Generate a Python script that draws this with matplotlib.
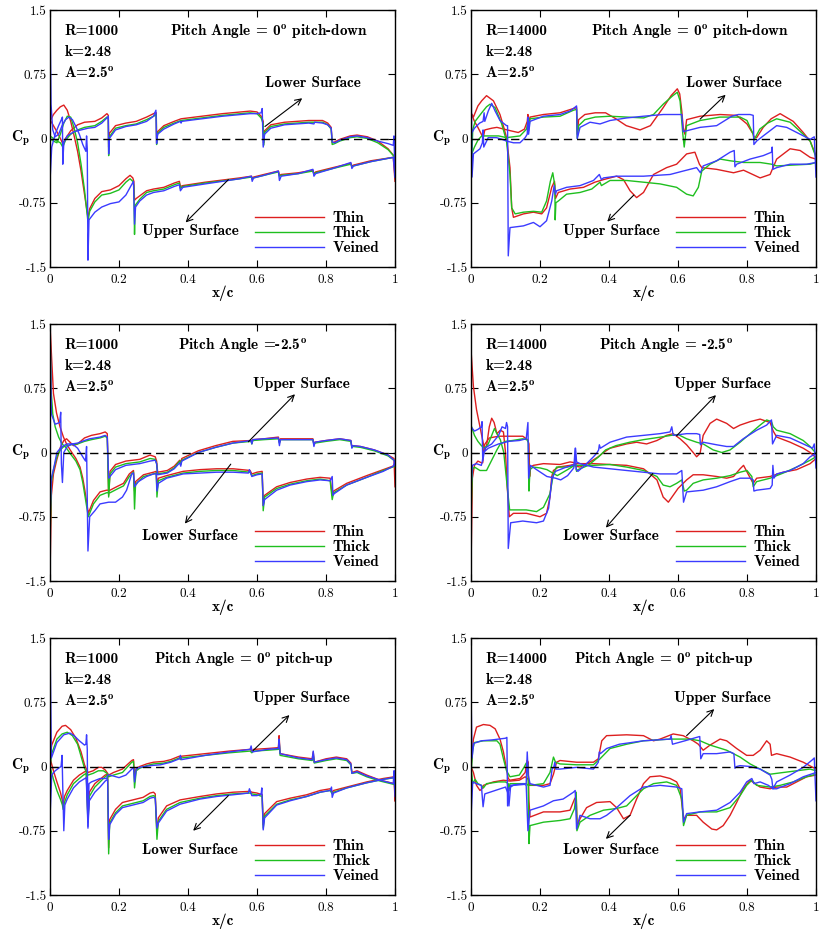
import matplotlib
matplotlib.use('Agg')
import matplotlib.pyplot as plt
from matplotlib.lines import Line2D

plt.rcParams['axes.unicode_minus'] = False
plt.rcParams['mathtext.fontset'] = 'cm'

# ---------------- data (x/c, Cp) ----------------
SERIES = ['Thin', 'Thick', 'Veined']
XTICKS = [0, 0.2, 0.4, 0.6, 0.8, 1.0]
XTICKLABELS = ['0', '0.2', '0.4', '0.6', '0.8', '1']
YTICKS = [-1.5, -0.75, 0, 0.75, 1.5]
YTICKLABELS = ['-1.5', '-0.75', '0', '0.75', '1.5']

# Panel 1 : R=1000, pitch angle 0 pitch-down
p1_thin_a = [(0.0,0.22),(0.01,0.15),(0.02,0.08),(0.03,0.0),(0.037,-0.06),(0.045,0.0),(0.06,0.09),(0.08,0.16),(0.1,0.19),(0.13,0.2),(0.15,0.24),(0.165,0.29),(0.169,0.27),(0.170,-0.1),(0.172,0.06),(0.19,0.15),(0.22,0.18),(0.25,0.2),(0.28,0.25),(0.305,0.3),(0.308,0.3),(0.309,-0.05),(0.312,0.08),(0.33,0.15),(0.36,0.2),(0.38,0.23),(0.42,0.25),(0.5,0.29),(0.58,0.32),(0.6,0.31),(0.612,0.26),(0.618,0.2),(0.619,-0.05),(0.622,0.09),(0.64,0.16),(0.68,0.19),(0.75,0.21),(0.79,0.21),(0.805,0.18),(0.815,0.13),(0.818,-0.05),(0.825,-0.04),(0.84,-0.01),(0.87,0.03),(0.89,0.04),(0.92,0.02),(0.95,-0.03),(0.98,-0.12),(1.0,-0.22)]
p1_thick_a = [(0.0,0.03),(0.01,0.0),(0.02,-0.03),(0.03,-0.05),(0.037,-0.1),(0.045,-0.02),(0.06,0.05),(0.08,0.1),(0.1,0.13),(0.13,0.15),(0.15,0.2),(0.165,0.25),(0.169,0.23),(0.170,-0.2),(0.172,0.02),(0.19,0.12),(0.22,0.15),(0.25,0.17),(0.28,0.22),(0.305,0.27),(0.308,0.28),(0.309,-0.07),(0.312,0.06),(0.33,0.13),(0.36,0.18),(0.38,0.21),(0.42,0.23),(0.5,0.27),(0.58,0.3),(0.6,0.29),(0.612,0.24),(0.618,0.17),(0.619,-0.08),(0.622,0.07),(0.64,0.14),(0.68,0.17),(0.75,0.19),(0.79,0.19),(0.805,0.16),(0.815,0.11),(0.818,-0.07),(0.825,-0.06),(0.84,-0.03),(0.87,0.01),(0.89,0.02),(0.92,0.0),(0.95,-0.05),(0.98,-0.13),(1.0,-0.22)]
p1_veined_a = [(0.0,-0.5),(0.005,-0.1),(0.015,0.05),(0.025,0.15),(0.033,0.22),(0.036,0.25),(0.037,-0.3),(0.04,-0.05),(0.05,0.03),(0.07,0.08),(0.09,0.1),(0.11,0.12),(0.13,0.13),(0.15,0.18),(0.165,0.24),(0.169,0.26),(0.170,-0.18),(0.172,0.0),(0.19,0.1),(0.22,0.14),(0.25,0.16),(0.28,0.2),(0.3,0.26),(0.307,0.33),(0.309,-0.06),(0.312,0.05),(0.33,0.11),(0.36,0.17),(0.378,0.2),(0.38,0.18),(0.382,0.2),(0.42,0.22),(0.5,0.26),(0.58,0.29),(0.6,0.29),(0.612,0.3),(0.615,0.35),(0.618,-0.1),(0.622,0.05),(0.64,0.12),(0.68,0.16),(0.75,0.18),(0.765,0.17),(0.767,0.19),(0.79,0.18),(0.805,0.16),(0.815,0.12),(0.818,-0.04),(0.825,-0.05),(0.84,-0.02),(0.87,0.02),(0.89,0.03),(0.92,0.01),(0.95,-0.03),(0.98,-0.06),(0.995,-0.08),(0.997,0.03),(1.0,-0.45)]
p1_thin_b = [(0.0,0.2),(0.01,0.28),(0.02,0.33),(0.03,0.37),(0.04,0.39),(0.05,0.33),(0.06,0.2),(0.07,0.03),(0.08,-0.15),(0.09,-0.38),(0.1,-0.65),(0.11,-0.92),(0.115,-0.82),(0.13,-0.7),(0.15,-0.62),(0.175,-0.6),(0.2,-0.55),(0.22,-0.47),(0.232,-0.43),(0.24,-0.46),(0.243,-0.5),(0.245,-0.72),(0.25,-0.7),(0.26,-0.67),(0.28,-0.61),(0.3,-0.59),(0.33,-0.57),(0.36,-0.52),(0.375,-0.5),(0.378,-0.56),(0.385,-0.55),(0.45,-0.51),(0.55,-0.46),(0.584,-0.44),(0.586,-0.47),(0.59,-0.45),(0.62,-0.42),(0.662,-0.38),(0.665,-0.43),(0.67,-0.42),(0.72,-0.4),(0.762,-0.37),(0.765,-0.41),(0.77,-0.39),(0.82,-0.34),(0.872,-0.29),(0.875,-0.32),(0.88,-0.31),(0.93,-0.26),(0.995,-0.22),(1.0,-0.5)]
p1_thick_b = [(0.0,0.0),(0.01,-0.03),(0.02,-0.05),(0.03,0.05),(0.04,0.18),(0.05,0.26),(0.06,0.25),(0.07,0.12),(0.08,-0.05),(0.09,-0.3),(0.1,-0.6),(0.11,-0.97),(0.115,-0.85),(0.13,-0.74),(0.15,-0.66),(0.175,-0.64),(0.2,-0.6),(0.22,-0.51),(0.232,-0.47),(0.24,-0.5),(0.243,-0.55),(0.245,-1.12),(0.247,-0.78),(0.26,-0.71),(0.28,-0.63),(0.3,-0.61),(0.33,-0.59),(0.36,-0.54),(0.375,-0.52),(0.378,-0.58),(0.385,-0.56),(0.45,-0.52),(0.55,-0.47),(0.584,-0.45),(0.586,-0.48),(0.59,-0.46),(0.62,-0.43),(0.662,-0.39),(0.665,-0.44),(0.67,-0.43),(0.72,-0.41),(0.762,-0.38),(0.765,-0.42),(0.77,-0.4),(0.82,-0.35),(0.872,-0.3),(0.875,-0.33),(0.88,-0.32),(0.93,-0.27),(0.995,-0.22),(1.0,-0.25)]
p1_veined_b = [(0.0,1.5),(0.003,0.4),(0.008,0.1),(0.015,0.02),(0.025,0.05),(0.035,0.15),(0.045,0.22),(0.055,0.25),(0.065,0.22),(0.075,0.14),(0.085,0.05),(0.095,-0.07),(0.104,-0.15),(0.106,0.03),(0.108,-0.12),(0.11,-1.42),(0.113,-0.95),(0.13,-0.86),(0.15,-0.8),(0.175,-0.76),(0.2,-0.74),(0.22,-0.66),(0.235,-0.55),(0.242,-0.5),(0.245,-1.0),(0.248,-0.8),(0.26,-0.73),(0.28,-0.66),(0.3,-0.63),(0.33,-0.61),(0.36,-0.56),(0.375,-0.54),(0.378,-0.61),(0.385,-0.57),(0.45,-0.53),(0.55,-0.47),(0.584,-0.44),(0.586,-0.5),(0.59,-0.46),(0.62,-0.43),(0.662,-0.38),(0.665,-0.49),(0.67,-0.44),(0.72,-0.41),(0.762,-0.36),(0.765,-0.44),(0.77,-0.41),(0.82,-0.35),(0.872,-0.28),(0.875,-0.35),(0.88,-0.32),(0.93,-0.27),(0.995,-0.22),(1.0,-0.45)]

# Panel 2 : R=14000, pitch angle 0 pitch-down
p2_thin_a = [(0.0,0.3),(0.01,0.2),(0.02,0.13),(0.03,0.05),(0.035,0.0),(0.04,0.1),(0.06,0.12),(0.075,0.13),(0.095,0.11),(0.115,0.09),(0.137,0.07),(0.155,0.11),(0.163,0.2),(0.165,0.28),(0.167,0.16),(0.171,0.25),(0.21,0.28),(0.258,0.3),(0.297,0.35),(0.306,0.36),(0.308,0.05),(0.312,0.22),(0.33,0.28),(0.36,0.3),(0.39,0.3),(0.42,0.23),(0.45,0.15),(0.49,0.1),(0.52,0.15),(0.557,0.36),(0.58,0.5),(0.598,0.58),(0.605,0.52),(0.611,0.32),(0.615,0.13),(0.62,0.05),(0.625,0.22),(0.664,0.26),(0.722,0.28),(0.77,0.27),(0.8,0.17),(0.818,0.05),(0.82,0.02),(0.828,0.01),(0.847,0.13),(0.87,0.23),(0.896,0.29),(0.934,0.2),(0.963,0.07),(0.983,-0.03),(1.0,-0.2)]
p2_thick_a = [(0.0,-0.2),(0.01,-0.1),(0.02,-0.02),(0.031,0.03),(0.055,0.03),(0.08,0.03),(0.103,0.01),(0.142,0.03),(0.161,0.11),(0.165,0.2),(0.167,0.09),(0.171,0.23),(0.21,0.25),(0.258,0.26),(0.297,0.33),(0.306,0.34),(0.308,0.0),(0.312,0.15),(0.33,0.22),(0.36,0.25),(0.403,0.26),(0.451,0.25),(0.5,0.24),(0.529,0.28),(0.557,0.4),(0.585,0.5),(0.598,0.54),(0.606,0.44),(0.614,0.05),(0.618,-0.1),(0.625,0.15),(0.664,0.21),(0.722,0.25),(0.78,0.25),(0.8,0.21),(0.818,0.05),(0.82,-0.02),(0.837,0.11),(0.86,0.18),(0.886,0.23),(0.925,0.19),(0.963,0.05),(0.983,-0.03),(1.0,-0.22)]
p2_veined_a = [(0.0,1.0),(0.003,-0.45),(0.007,-0.18),(0.026,-0.12),(0.033,-0.05),(0.035,0.1),(0.037,-0.1),(0.05,0.01),(0.074,0.01),(0.09,-0.01),(0.103,-0.03),(0.123,-0.05),(0.142,-0.05),(0.157,0.01),(0.163,0.05),(0.165,0.25),(0.167,0.05),(0.171,0.2),(0.21,0.26),(0.258,0.28),(0.287,0.32),(0.3,0.36),(0.306,0.38),(0.308,0.0),(0.316,0.13),(0.345,0.19),(0.374,0.17),(0.403,0.21),(0.451,0.24),(0.5,0.26),(0.557,0.28),(0.611,0.28),(0.615,0.08),(0.625,0.09),(0.664,0.13),(0.712,0.15),(0.756,0.26),(0.775,0.28),(0.809,0.28),(0.818,0.27),(0.82,-0.07),(0.828,-0.03),(0.847,0.03),(0.886,0.15),(0.915,0.13),(0.954,0.05),(0.983,-0.01),(0.995,0.02),(1.0,-0.45)]
p2_thin_b = [(0.0,0.3),(0.007,0.25),(0.02,0.38),(0.031,0.44),(0.045,0.5),(0.065,0.44),(0.084,0.28),(0.095,0.13),(0.103,0.01),(0.113,-0.34),(0.118,-0.81),(0.123,-0.92),(0.152,-0.88),(0.181,-0.86),(0.205,-0.88),(0.219,-0.81),(0.234,-0.57),(0.242,-0.5),(0.245,-0.7),(0.253,-0.63),(0.287,-0.59),(0.326,-0.57),(0.359,-0.51),(0.384,-0.48),(0.422,-0.44),(0.442,-0.48),(0.461,-0.61),(0.48,-0.69),(0.5,-0.63),(0.529,-0.42),(0.567,-0.34),(0.596,-0.3),(0.625,-0.18),(0.649,-0.16),(0.662,-0.3),(0.669,-0.34),(0.712,-0.36),(0.761,-0.4),(0.79,-0.37),(0.838,-0.46),(0.867,-0.42),(0.886,-0.24),(0.925,-0.12),(0.954,-0.14),(0.983,-0.22),(1.0,-0.24)]
p2_thick_b = [(0.0,-0.5),(0.005,0.1),(0.012,0.2),(0.031,0.3),(0.045,0.37),(0.055,0.4),(0.07,0.36),(0.089,0.17),(0.103,-0.03),(0.113,-0.42),(0.118,-0.81),(0.128,-0.88),(0.152,-0.86),(0.181,-0.85),(0.205,-0.86),(0.219,-0.73),(0.23,-0.5),(0.237,-0.4),(0.243,-0.55),(0.244,-0.95),(0.246,-0.75),(0.253,-0.73),(0.277,-0.65),(0.316,-0.63),(0.35,-0.59),(0.374,-0.51),(0.378,-0.55),(0.403,-0.49),(0.451,-0.49),(0.5,-0.51),(0.548,-0.53),(0.596,-0.57),(0.625,-0.65),(0.644,-0.67),(0.659,-0.57),(0.669,-0.38),(0.693,-0.3),(0.722,-0.24),(0.751,-0.26),(0.79,-0.28),(0.838,-0.28),(0.871,-0.3),(0.886,-0.32),(0.934,-0.31),(0.983,-0.3),(1.0,-0.28)]
p2_veined_b = [(0.0,0.05),(0.01,0.12),(0.025,0.18),(0.035,0.2),(0.038,0.3),(0.04,0.2),(0.05,0.32),(0.06,0.41),(0.07,0.32),(0.084,0.21),(0.103,0.15),(0.106,0.15),(0.108,-1.37),(0.113,-1.04),(0.152,-1.02),(0.181,-0.98),(0.2,-1.03),(0.219,-0.96),(0.234,-0.73),(0.241,-0.55),(0.245,-0.65),(0.248,-0.61),(0.277,-0.57),(0.316,-0.55),(0.355,-0.49),(0.372,-0.42),(0.378,-0.48),(0.384,-0.46),(0.422,-0.44),(0.5,-0.44),(0.577,-0.42),(0.615,-0.38),(0.654,-0.34),(0.665,-0.4),(0.673,-0.32),(0.712,-0.26),(0.751,-0.16),(0.763,-0.14),(0.765,-0.33),(0.77,-0.3),(0.809,-0.24),(0.847,-0.2),(0.871,-0.16),(0.873,-0.1),(0.875,-0.36),(0.886,-0.34),(0.925,-0.3),(0.973,-0.3),(1.0,-0.28)]

# Panel 3 : R=1000, pitch angle -2.5
p3_thin_a = [(0.0,-1.45),(0.004,-0.5),(0.01,-0.25),(0.02,-0.08),(0.03,0.06),(0.04,0.14),(0.048,0.16),(0.058,0.12),(0.068,0.08),(0.08,0.1),(0.1,0.17),(0.12,0.2),(0.145,0.22),(0.16,0.24),(0.166,0.22),(0.17,-0.5),(0.174,-0.22),(0.19,-0.14),(0.22,-0.1),(0.26,-0.08),(0.29,-0.03),(0.305,-0.05),(0.309,-0.1),(0.312,-0.23),(0.34,-0.21),(0.36,-0.16),(0.376,-0.09),(0.379,-0.12),(0.382,-0.07),(0.43,0.02),(0.48,0.08),(0.53,0.13),(0.583,0.14),(0.585,0.11),(0.588,0.15),(0.62,0.16),(0.662,0.18),(0.665,0.12),(0.668,0.16),(0.72,0.16),(0.762,0.16),(0.765,0.1),(0.768,0.12),(0.8,0.14),(0.84,0.16),(0.872,0.14),(0.875,0.07),(0.878,0.08),(0.9,0.07),(0.94,0.03),(0.98,-0.03),(0.997,-0.07),(1.0,-0.4)]
p3_thick_a = [(0.0,-1.05),(0.004,-0.35),(0.01,-0.2),(0.02,-0.05),(0.03,0.03),(0.04,0.07),(0.05,0.08),(0.06,0.09),(0.08,0.1),(0.1,0.13),(0.12,0.15),(0.145,0.17),(0.16,0.19),(0.166,0.17),(0.17,-0.52),(0.174,-0.25),(0.19,-0.17),(0.22,-0.13),(0.26,-0.11),(0.29,-0.07),(0.305,-0.08),(0.309,-0.13),(0.312,-0.25),(0.34,-0.23),(0.36,-0.18),(0.376,-0.1),(0.379,-0.14),(0.382,-0.09),(0.43,0.0),(0.48,0.06),(0.53,0.11),(0.583,0.13),(0.585,0.1),(0.588,0.14),(0.62,0.15),(0.662,0.16),(0.665,0.11),(0.668,0.15),(0.72,0.15),(0.762,0.15),(0.765,0.09),(0.768,0.11),(0.8,0.13),(0.84,0.15),(0.872,0.13),(0.875,0.06),(0.878,0.07),(0.9,0.06),(0.94,0.02),(0.98,-0.04),(1.0,-0.1)]
p3_veined_a = [(0.0,-0.8),(0.004,-0.3),(0.01,-0.2),(0.02,0.0),(0.03,0.05),(0.04,0.08),(0.05,0.1),(0.065,0.1),(0.08,0.11),(0.1,0.14),(0.115,0.16),(0.145,0.18),(0.16,0.2),(0.166,0.18),(0.17,-0.3),(0.174,-0.28),(0.19,-0.2),(0.22,-0.15),(0.26,-0.13),(0.29,-0.1),(0.305,-0.09),(0.309,-0.13),(0.312,-0.26),(0.34,-0.24),(0.36,-0.19),(0.376,-0.12),(0.379,-0.16),(0.382,-0.1),(0.43,0.0),(0.48,0.06),(0.53,0.11),(0.583,0.14),(0.585,0.1),(0.588,0.15),(0.62,0.16),(0.662,0.17),(0.665,0.08),(0.668,0.15),(0.72,0.15),(0.762,0.15),(0.765,0.07),(0.768,0.12),(0.8,0.14),(0.84,0.16),(0.872,0.14),(0.875,0.05),(0.878,0.08),(0.9,0.07),(0.94,0.03),(0.98,-0.03),(0.997,-0.09),(1.0,-0.15)]
p3_thin_b = [(0.0,1.5),(0.005,1.08),(0.01,0.69),(0.019,0.46),(0.029,0.3),(0.039,0.18),(0.048,0.1),(0.06,0.02),(0.075,-0.07),(0.087,-0.17),(0.095,-0.3),(0.101,-0.44),(0.111,-0.71),(0.126,-0.56),(0.145,-0.46),(0.164,-0.44),(0.174,-0.44),(0.193,-0.4),(0.213,-0.36),(0.23,-0.25),(0.242,-0.21),(0.245,-0.45),(0.248,-0.34),(0.271,-0.26),(0.3,-0.23),(0.308,-0.22),(0.31,-0.4),(0.314,-0.3),(0.338,-0.27),(0.386,-0.22),(0.435,-0.2),(0.483,-0.19),(0.531,-0.19),(0.58,-0.21),(0.585,-0.25),(0.6,-0.23),(0.615,-0.22),(0.618,-0.62),(0.622,-0.5),(0.657,-0.4),(0.696,-0.35),(0.744,-0.31),(0.783,-0.29),(0.812,-0.3),(0.818,-0.5),(0.822,-0.45),(0.86,-0.36),(0.918,-0.27),(0.966,-0.2),(1.0,-0.15)]
p3_thick_b = [(0.0,1.5),(0.003,0.75),(0.008,0.45),(0.015,0.3),(0.025,0.18),(0.035,0.1),(0.048,0.05),(0.06,-0.02),(0.075,-0.1),(0.087,-0.2),(0.095,-0.35),(0.101,-0.5),(0.111,-0.75),(0.126,-0.6),(0.145,-0.5),(0.164,-0.47),(0.174,-0.47),(0.193,-0.43),(0.213,-0.39),(0.23,-0.28),(0.242,-0.23),(0.245,-0.66),(0.248,-0.37),(0.271,-0.28),(0.3,-0.25),(0.308,-0.24),(0.31,-0.52),(0.314,-0.33),(0.338,-0.29),(0.386,-0.24),(0.435,-0.22),(0.483,-0.21),(0.531,-0.21),(0.58,-0.23),(0.585,-0.27),(0.6,-0.25),(0.615,-0.24),(0.618,-0.68),(0.622,-0.52),(0.657,-0.42),(0.696,-0.37),(0.744,-0.33),(0.783,-0.31),(0.812,-0.33),(0.818,-0.55),(0.822,-0.47),(0.86,-0.38),(0.918,-0.29),(0.966,-0.21),(1.0,-0.16)]
p3_veined_b = [(0.0,1.5),(0.004,0.45),(0.015,0.33),(0.028,0.35),(0.031,0.47),(0.033,-0.13),(0.036,-0.35),(0.04,0.0),(0.05,0.07),(0.065,0.1),(0.08,0.05),(0.095,-0.05),(0.103,-0.1),(0.106,0.07),(0.11,-1.15),(0.115,-0.75),(0.13,-0.68),(0.145,-0.6),(0.17,-0.58),(0.19,-0.58),(0.21,-0.52),(0.222,-0.44),(0.237,-0.25),(0.242,-0.24),(0.245,-0.4),(0.256,-0.34),(0.28,-0.28),(0.3,-0.25),(0.308,-0.25),(0.31,-0.45),(0.314,-0.36),(0.338,-0.3),(0.386,-0.25),(0.435,-0.24),(0.483,-0.23),(0.531,-0.23),(0.575,-0.24),(0.578,-0.2),(0.585,-0.28),(0.6,-0.26),(0.615,-0.25),(0.618,-0.62),(0.622,-0.55),(0.657,-0.44),(0.696,-0.38),(0.744,-0.34),(0.783,-0.32),(0.812,-0.33),(0.818,-0.28),(0.82,-0.5),(0.824,-0.48),(0.86,-0.38),(0.918,-0.29),(0.966,-0.22),(0.995,-0.16),(1.0,-0.1)]

# Panel 4 : R=14000, pitch angle -2.5
p4_thin_a = [(0.0,-1.35),(0.004,-0.3),(0.01,-0.15),(0.02,-0.1),(0.03,-0.12),(0.034,-0.12),(0.036,0.0),(0.039,0.09),(0.053,0.17),(0.08,0.19),(0.111,0.19),(0.15,0.19),(0.164,0.15),(0.168,0.1),(0.17,-0.28),(0.172,-0.17),(0.181,-0.15),(0.21,-0.13),(0.258,-0.14),(0.287,-0.11),(0.302,-0.12),(0.304,-0.16),(0.316,-0.17),(0.345,-0.11),(0.369,-0.05),(0.384,0.0),(0.403,0.05),(0.451,0.1),(0.48,0.12),(0.509,0.1),(0.539,0.14),(0.567,0.2),(0.586,0.22),(0.606,0.16),(0.625,0.09),(0.644,0.0),(0.654,-0.05),(0.664,-0.01),(0.673,0.2),(0.693,0.34),(0.712,0.39),(0.741,0.34),(0.761,0.28),(0.78,0.32),(0.809,0.36),(0.838,0.39),(0.867,0.35),(0.876,0.25),(0.886,0.18),(0.925,0.12),(0.963,0.05),(0.983,0.0),(1.0,-0.06)]
p4_thick_a = [(0.0,-0.75),(0.004,-0.2),(0.01,-0.17),(0.026,-0.21),(0.045,-0.21),(0.055,-0.13),(0.065,-0.05),(0.075,0.03),(0.085,0.1),(0.1,0.13),(0.12,0.14),(0.15,0.16),(0.162,0.15),(0.166,0.12),(0.168,-0.45),(0.171,-0.2),(0.18,-0.17),(0.2,-0.18),(0.22,-0.2),(0.25,-0.27),(0.28,-0.2),(0.3,-0.15),(0.304,-0.15),(0.306,-0.22),(0.31,-0.2),(0.34,-0.15),(0.37,-0.05),(0.39,0.03),(0.42,0.08),(0.46,0.12),(0.5,0.15),(0.55,0.18),(0.58,0.2),(0.6,0.21),(0.625,0.16),(0.654,0.12),(0.673,0.1),(0.702,0.03),(0.727,0.0),(0.751,0.03),(0.78,0.12),(0.809,0.22),(0.838,0.32),(0.857,0.38),(0.871,0.36),(0.876,0.3),(0.886,0.26),(0.925,0.22),(0.963,0.14),(0.983,0.07),(1.0,-0.01)]
p4_veined_a = [(0.0,-0.42),(0.004,-0.15),(0.015,-0.13),(0.03,-0.15),(0.033,-0.1),(0.036,0.0),(0.05,0.05),(0.08,0.1),(0.11,0.13),(0.14,0.14),(0.16,0.16),(0.165,0.35),(0.167,-0.3),(0.172,-0.15),(0.19,-0.2),(0.22,-0.28),(0.245,-0.3),(0.26,-0.32),(0.28,-0.27),(0.298,-0.18),(0.302,0.05),(0.305,-0.2),(0.31,-0.22),(0.33,-0.15),(0.355,-0.05),(0.364,-0.01),(0.37,0.03),(0.372,0.09),(0.375,0.05),(0.403,0.12),(0.451,0.18),(0.5,0.2),(0.548,0.22),(0.577,0.24),(0.582,0.3),(0.586,0.2),(0.625,0.22),(0.654,0.22),(0.663,0.21),(0.665,0.09),(0.673,0.12),(0.712,0.09),(0.741,0.07),(0.761,0.07),(0.789,0.16),(0.828,0.26),(0.857,0.32),(0.871,0.38),(0.874,0.1),(0.886,0.2),(0.925,0.17),(0.963,0.1),(0.99,0.05),(0.995,0.1),(1.0,-0.18)]
p4_thin_b = [(0.0,1.2),(0.007,0.77),(0.016,0.5),(0.026,0.3),(0.035,0.12),(0.04,0.02),(0.046,0.1),(0.053,0.3),(0.06,0.4),(0.067,0.35),(0.075,0.22),(0.085,0.26),(0.094,0.24),(0.1,0.0),(0.105,-0.4),(0.111,-0.75),(0.123,-0.71),(0.161,-0.71),(0.2,-0.75),(0.219,-0.71),(0.229,-0.52),(0.234,-0.28),(0.239,-0.21),(0.253,-0.17),(0.287,-0.15),(0.306,-0.13),(0.355,-0.13),(0.403,-0.14),(0.451,-0.15),(0.5,-0.19),(0.519,-0.25),(0.539,-0.32),(0.557,-0.52),(0.572,-0.58),(0.586,-0.5),(0.6,-0.42),(0.615,-0.36),(0.625,-0.32),(0.644,-0.26),(0.673,-0.26),(0.712,-0.28),(0.741,-0.3),(0.761,-0.28),(0.78,-0.19),(0.79,-0.15),(0.803,-0.25),(0.818,-0.36),(0.828,-0.3),(0.867,-0.28),(0.905,-0.23),(0.944,-0.2),(0.983,-0.13),(1.0,-0.07)]
p4_thick_b = [(0.0,0.32),(0.01,0.2),(0.02,0.13),(0.03,0.08),(0.04,0.05),(0.05,0.1),(0.06,0.2),(0.068,0.28),(0.075,0.22),(0.085,0.15),(0.095,0.0),(0.105,-0.4),(0.112,-0.67),(0.123,-0.67),(0.16,-0.67),(0.19,-0.69),(0.21,-0.64),(0.229,-0.48),(0.239,-0.25),(0.248,-0.17),(0.277,-0.17),(0.306,-0.15),(0.355,-0.15),(0.403,-0.14),(0.451,-0.17),(0.5,-0.21),(0.539,-0.28),(0.557,-0.38),(0.577,-0.4),(0.596,-0.36),(0.611,-0.32),(0.618,-0.45),(0.625,-0.44),(0.644,-0.36),(0.673,-0.32),(0.712,-0.3),(0.751,-0.27),(0.78,-0.23),(0.8,-0.21),(0.814,-0.28),(0.818,-0.4),(0.828,-0.34),(0.867,-0.3),(0.905,-0.24),(0.944,-0.17),(0.983,-0.09),(1.0,-0.05)]
p4_veined_b = [(0.0,0.3),(0.01,0.25),(0.02,0.27),(0.03,0.3),(0.032,0.36),(0.034,-0.1),(0.04,0.05),(0.06,0.1),(0.08,0.2),(0.09,0.3),(0.1,0.28),(0.103,0.35),(0.106,0.3),(0.108,-1.12),(0.115,-0.82),(0.15,-0.8),(0.19,-0.82),(0.21,-0.8),(0.225,-0.65),(0.235,-0.3),(0.245,-0.22),(0.27,-0.18),(0.3,-0.14),(0.303,0.05),(0.306,-0.11),(0.316,-0.13),(0.355,-0.17),(0.403,-0.19),(0.451,-0.21),(0.5,-0.23),(0.548,-0.25),(0.596,-0.25),(0.611,-0.21),(0.616,-0.58),(0.625,-0.46),(0.673,-0.44),(0.712,-0.4),(0.751,-0.34),(0.78,-0.3),(0.809,-0.3),(0.818,-0.32),(0.82,-0.45),(0.828,-0.44),(0.867,-0.42),(0.873,-0.38),(0.875,-0.15),(0.878,-0.3),(0.886,-0.25),(0.925,-0.21),(0.963,-0.13),(0.983,-0.05),(1.0,-0.01)]

# Panel 5 : R=1000, pitch angle 0 pitch-up
p5_thin_a = [(0.0,0.1),(0.005,0.25),(0.02,0.4),(0.035,0.47),(0.045,0.48),(0.06,0.43),(0.075,0.33),(0.09,0.17),(0.1,0.02),(0.11,-0.07),(0.125,-0.05),(0.14,-0.01),(0.15,-0.01),(0.16,-0.04),(0.167,-0.08),(0.17,-0.1),(0.184,-0.07),(0.21,-0.03),(0.237,0.07),(0.242,0.08),(0.245,-0.1),(0.25,-0.02),(0.26,0.0),(0.28,0.03),(0.3,0.05),(0.33,0.06),(0.35,0.08),(0.375,0.12),(0.378,0.1),(0.381,0.12),(0.45,0.15),(0.52,0.18),(0.58,0.2),(0.585,0.18),(0.59,0.2),(0.63,0.21),(0.662,0.22),(0.664,0.36),(0.667,0.15),(0.72,0.11),(0.76,0.09),(0.763,0.17),(0.766,0.05),(0.8,0.09),(0.83,0.11),(0.86,0.09),(0.872,0.04),(0.875,-0.07),(0.89,-0.05),(0.918,-0.1),(0.957,-0.16),(0.998,-0.2),(1.0,-0.4)]
p5_thick_a = [(0.0,0.0),(0.005,0.15),(0.02,0.32),(0.035,0.38),(0.05,0.4),(0.065,0.36),(0.08,0.26),(0.09,0.12),(0.1,-0.02),(0.11,-0.1),(0.125,-0.08),(0.14,-0.05),(0.155,-0.05),(0.165,-0.08),(0.17,-0.12),(0.184,-0.1),(0.21,-0.07),(0.237,0.05),(0.242,0.06),(0.245,-0.25),(0.25,-0.05),(0.26,-0.02),(0.28,0.01),(0.3,0.03),(0.33,0.04),(0.35,0.06),(0.375,0.1),(0.378,0.08),(0.381,0.1),(0.45,0.13),(0.52,0.16),(0.58,0.18),(0.585,0.16),(0.59,0.18),(0.63,0.19),(0.662,0.2),(0.664,0.3),(0.667,0.13),(0.72,0.09),(0.76,0.07),(0.763,0.14),(0.766,0.04),(0.8,0.07),(0.83,0.09),(0.86,0.07),(0.872,0.02),(0.875,-0.08),(0.89,-0.07),(0.918,-0.12),(0.957,-0.17),(0.998,-0.21),(1.0,-0.2)]
p5_veined_a = [(0.0,1.5),(0.004,0.1),(0.02,0.28),(0.04,0.37),(0.058,0.39),(0.07,0.36),(0.085,0.3),(0.1,0.25),(0.104,0.26),(0.106,0.37),(0.108,0.2),(0.11,-0.72),(0.113,-0.2),(0.12,-0.18),(0.145,-0.14),(0.164,-0.14),(0.168,-0.1),(0.174,-0.1),(0.2,-0.13),(0.22,-0.1),(0.242,-0.01),(0.245,-0.18),(0.25,-0.03),(0.26,-0.01),(0.29,0.01),(0.32,0.02),(0.35,0.05),(0.375,0.09),(0.378,0.13),(0.381,0.08),(0.45,0.13),(0.52,0.17),(0.58,0.2),(0.583,0.24),(0.586,0.17),(0.63,0.2),(0.662,0.21),(0.664,0.32),(0.667,0.15),(0.72,0.1),(0.76,0.08),(0.763,0.18),(0.766,0.05),(0.8,0.08),(0.83,0.1),(0.86,0.08),(0.872,0.03),(0.875,-0.08),(0.89,-0.06),(0.918,-0.11),(0.957,-0.16),(0.995,-0.2),(0.997,-0.05),(1.0,-0.35)]
p5_thin_b = [(0.0,0.1),(0.01,-0.05),(0.02,-0.18),(0.03,-0.3),(0.036,-0.4),(0.038,-0.45),(0.042,-0.35),(0.05,-0.28),(0.068,-0.16),(0.085,-0.1),(0.097,-0.07),(0.105,-0.05),(0.11,-0.6),(0.114,-0.3),(0.13,-0.2),(0.145,-0.15),(0.16,-0.1),(0.167,-0.09),(0.17,-0.95),(0.173,-0.62),(0.19,-0.5),(0.21,-0.42),(0.24,-0.39),(0.27,-0.36),(0.29,-0.31),(0.3,-0.3),(0.305,-0.32),(0.31,-0.78),(0.314,-0.6),(0.338,-0.46),(0.377,-0.39),(0.435,-0.35),(0.483,-0.32),(0.531,-0.3),(0.58,-0.29),(0.585,-0.3),(0.6,-0.31),(0.615,-0.33),(0.618,-0.68),(0.622,-0.55),(0.657,-0.41),(0.696,-0.37),(0.744,-0.33),(0.783,-0.28),(0.812,-0.26),(0.818,-0.3),(0.822,-0.28),(0.86,-0.24),(0.918,-0.18),(0.966,-0.14),(0.998,-0.12),(1.0,-0.4)]
p5_thick_b = [(0.0,0.0),(0.01,-0.15),(0.02,-0.28),(0.03,-0.38),(0.036,-0.45),(0.038,-0.5),(0.042,-0.42),(0.05,-0.33),(0.068,-0.2),(0.085,-0.14),(0.097,-0.1),(0.105,-0.08),(0.11,-0.65),(0.114,-0.35),(0.13,-0.24),(0.145,-0.18),(0.16,-0.12),(0.167,-0.1),(0.17,-1.02),(0.173,-0.66),(0.19,-0.54),(0.21,-0.46),(0.24,-0.43),(0.27,-0.4),(0.29,-0.35),(0.3,-0.34),(0.305,-0.35),(0.31,-0.85),(0.314,-0.64),(0.338,-0.5),(0.377,-0.42),(0.435,-0.37),(0.483,-0.34),(0.531,-0.32),(0.58,-0.31),(0.585,-0.32),(0.6,-0.33),(0.615,-0.35),(0.618,-0.72),(0.622,-0.58),(0.657,-0.44),(0.696,-0.39),(0.744,-0.35),(0.783,-0.3),(0.812,-0.28),(0.818,-0.32),(0.822,-0.3),(0.86,-0.25),(0.918,-0.19),(0.966,-0.15),(1.0,-0.13)]
p5_veined_b = [(0.0,-0.6),(0.005,-0.1),(0.015,-0.05),(0.025,-0.02),(0.032,0.0),(0.035,0.13),(0.037,-0.25),(0.04,-0.75),(0.043,-0.45),(0.05,-0.38),(0.068,-0.25),(0.085,-0.18),(0.097,-0.15),(0.105,-0.13),(0.11,-0.7),(0.114,-0.4),(0.13,-0.3),(0.145,-0.24),(0.16,-0.17),(0.167,-0.15),(0.17,-0.85),(0.173,-0.68),(0.19,-0.56),(0.21,-0.48),(0.24,-0.45),(0.27,-0.42),(0.29,-0.37),(0.3,-0.36),(0.305,-0.37),(0.31,-0.72),(0.314,-0.66),(0.338,-0.52),(0.377,-0.44),(0.435,-0.38),(0.483,-0.35),(0.531,-0.33),(0.575,-0.31),(0.578,-0.26),(0.585,-0.34),(0.6,-0.34),(0.612,-0.32),(0.614,-0.25),(0.618,-0.74),(0.622,-0.6),(0.657,-0.45),(0.696,-0.4),(0.744,-0.35),(0.783,-0.3),(0.812,-0.28),(0.816,-0.24),(0.818,-0.36),(0.822,-0.31),(0.86,-0.25),(0.918,-0.19),(0.966,-0.15),(0.995,-0.13),(1.0,-0.05)]

# Panel 6 : R=14000, pitch angle 0 pitch-up
p6_thin_a = [(0.0,0.0),(0.007,0.32),(0.016,0.46),(0.036,0.49),(0.055,0.48),(0.07,0.44),(0.084,0.32),(0.094,0.17),(0.103,-0.03),(0.108,-0.14),(0.113,-0.16),(0.142,-0.14),(0.157,-0.07),(0.163,0.07),(0.166,0.05),(0.168,-0.4),(0.171,-0.59),(0.21,-0.53),(0.258,-0.53),(0.287,-0.51),(0.3,-0.38),(0.305,-0.35),(0.308,-0.7),(0.316,-0.61),(0.335,-0.48),(0.364,-0.42),(0.403,-0.41),(0.422,-0.48),(0.442,-0.61),(0.461,-0.57),(0.48,-0.38),(0.5,-0.2),(0.519,-0.12),(0.548,-0.11),(0.577,-0.14),(0.596,-0.18),(0.606,-0.26),(0.614,-0.53),(0.618,-0.62),(0.625,-0.57),(0.654,-0.57),(0.673,-0.65),(0.698,-0.73),(0.712,-0.74),(0.731,-0.69),(0.751,-0.57),(0.77,-0.42),(0.789,-0.26),(0.809,-0.16),(0.823,-0.2),(0.838,-0.24),(0.867,-0.26),(0.886,-0.24),(0.915,-0.24),(0.944,-0.18),(0.973,-0.12),(1.0,-0.1)]
p6_thick_a = [(0.0,-0.1),(0.005,0.2),(0.01,0.28),(0.036,0.3),(0.06,0.3),(0.075,0.3),(0.084,0.26),(0.094,0.09),(0.103,-0.05),(0.113,-0.12),(0.14,-0.1),(0.155,0.0),(0.16,0.04),(0.165,0.02),(0.168,-0.9),(0.171,-0.69),(0.21,-0.65),(0.258,-0.63),(0.287,-0.61),(0.3,-0.49),(0.305,-0.3),(0.307,-0.75),(0.316,-0.65),(0.345,-0.57),(0.384,-0.51),(0.422,-0.49),(0.451,-0.46),(0.48,-0.34),(0.5,-0.26),(0.529,-0.2),(0.567,-0.18),(0.596,-0.22),(0.611,-0.38),(0.616,-0.69),(0.625,-0.57),(0.664,-0.53),(0.712,-0.53),(0.751,-0.48),(0.78,-0.34),(0.799,-0.22),(0.814,-0.16),(0.828,-0.22),(0.867,-0.24),(0.896,-0.22),(0.934,-0.18),(0.973,-0.12),(1.0,-0.09)]
p6_veined_a = [(0.0,0.9),(0.003,0.1),(0.008,0.27),(0.03,0.3),(0.06,0.31),(0.08,0.32),(0.1,0.33),(0.104,0.34),(0.106,-0.46),(0.11,-0.25),(0.123,-0.22),(0.152,-0.21),(0.16,-0.2),(0.163,0.17),(0.166,-0.1),(0.171,-0.2),(0.21,-0.24),(0.229,-0.22),(0.235,-0.03),(0.24,-0.01),(0.243,0.05),(0.246,-0.03),(0.258,-0.03),(0.306,-0.01),(0.355,-0.03),(0.369,0.05),(0.372,0.17),(0.375,0.15),(0.393,0.21),(0.43,0.26),(0.5,0.3),(0.577,0.32),(0.58,0.36),(0.584,0.26),(0.62,0.3),(0.654,0.34),(0.663,0.35),(0.666,0.09),(0.673,0.15),(0.712,0.15),(0.751,0.17),(0.762,0.15),(0.765,-0.02),(0.77,0.0),(0.78,0.01),(0.809,0.0),(0.838,-0.03),(0.867,-0.1),(0.872,-0.15),(0.875,-0.26),(0.886,-0.18),(0.925,-0.1),(0.963,-0.01),(0.99,0.08),(0.995,0.1),(1.0,-0.4)]
p6_thin_b = [(0.0,0.0),(0.007,-0.07),(0.016,-0.22),(0.026,-0.28),(0.034,-0.25),(0.036,-0.22),(0.065,-0.18),(0.094,-0.16),(0.113,-0.17),(0.14,-0.16),(0.157,-0.12),(0.166,-0.15),(0.171,-0.22),(0.21,-0.22),(0.229,-0.2),(0.239,-0.09),(0.248,0.05),(0.258,0.07),(0.306,0.05),(0.355,0.05),(0.369,0.09),(0.379,0.3),(0.393,0.36),(0.451,0.37),(0.5,0.36),(0.529,0.3),(0.548,0.32),(0.586,0.38),(0.615,0.36),(0.644,0.3),(0.659,0.26),(0.673,0.19),(0.693,0.25),(0.722,0.32),(0.741,0.3),(0.77,0.21),(0.799,0.13),(0.818,0.13),(0.838,0.19),(0.857,0.3),(0.867,0.26),(0.871,0.13),(0.886,0.15),(0.925,0.11),(0.963,0.05),(1.0,-0.03)]
p6_thick_b = [(0.0,0.0),(0.005,-0.2),(0.012,-0.15),(0.02,-0.2),(0.03,-0.22),(0.036,-0.25),(0.045,-0.2),(0.08,-0.18),(0.1,-0.18),(0.108,-0.2),(0.11,-0.28),(0.113,-0.2),(0.14,-0.2),(0.16,-0.2),(0.166,-0.22),(0.171,-0.22),(0.21,-0.2),(0.229,-0.07),(0.239,0.11),(0.245,0.05),(0.258,0.03),(0.306,0.02),(0.355,0.02),(0.374,0.09),(0.403,0.21),(0.451,0.26),(0.5,0.3),(0.577,0.32),(0.635,0.32),(0.664,0.3),(0.693,0.25),(0.741,0.19),(0.78,0.11),(0.809,0.03),(0.838,-0.03),(0.867,-0.09),(0.905,-0.07),(0.944,-0.05),(0.983,-0.03),(1.0,-0.05)]
p6_veined_b = [(0.0,-0.6),(0.005,-0.18),(0.015,-0.2),(0.03,-0.22),(0.035,-0.47),(0.04,-0.32),(0.07,-0.28),(0.1,-0.24),(0.106,-0.3),(0.11,-0.46),(0.115,-0.22),(0.152,-0.2),(0.16,-0.22),(0.165,-0.75),(0.171,-0.51),(0.21,-0.46),(0.239,-0.4),(0.267,-0.38),(0.297,-0.3),(0.302,-0.28),(0.306,-0.73),(0.316,-0.57),(0.345,-0.61),(0.374,-0.61),(0.393,-0.57),(0.422,-0.48),(0.461,-0.34),(0.5,-0.24),(0.548,-0.22),(0.596,-0.24),(0.611,-0.26),(0.616,-0.65),(0.625,-0.55),(0.664,-0.53),(0.712,-0.51),(0.751,-0.42),(0.78,-0.3),(0.799,-0.18),(0.814,-0.14),(0.82,-0.2),(0.838,-0.18),(0.862,-0.22),(0.875,-0.26),(0.886,-0.26),(0.925,-0.2),(0.963,-0.12),(1.0,-0.07)]

R_LABELS = ['R=1000', 'R=14000', 'R=1000', 'R=14000', 'R=1000', 'R=14000']
PITCH_LABELS = ['Pitch Angle = 0$^{\\mathbf{o}}$ pitch-down', 'Pitch Angle = 0$^{\\mathbf{o}}$ pitch-down',
                'Pitch Angle =-2.5$^{\\mathbf{o}}$', 'Pitch Angle = -2.5$^{\\mathbf{o}}$',
                'Pitch Angle = 0$^{\\mathbf{o}}$ pitch-up', 'Pitch Angle = 0$^{\\mathbf{o}}$ pitch-up']
K_LABEL = 'k=2.48'
A_LABEL = 'A=2.5$^{\\mathbf{o}}$'

PANEL_CURVES = [
    [(p1_thin_a, p1_thin_b), (p1_thick_a, p1_thick_b), (p1_veined_a, p1_veined_b)],
    [(p2_thin_a, p2_thin_b), (p2_thick_a, p2_thick_b), (p2_veined_a, p2_veined_b)],
    [(p3_thin_a, p3_thin_b), (p3_thick_a, p3_thick_b), (p3_veined_a, p3_veined_b)],
    [(p4_thin_a, p4_thin_b), (p4_thick_a, p4_thick_b), (p4_veined_a, p4_veined_b)],
    [(p5_thin_a, p5_thin_b), (p5_thick_a, p5_thick_b), (p5_veined_a, p5_veined_b)],
    [(p6_thin_a, p6_thin_b), (p6_thick_a, p6_thick_b), (p6_veined_a, p6_veined_b)],
]

# ---------------- layout / style ----------------
COLORS = ['#dd1f1f', '#1fbf1f', '#3b3bff']
W, H = 821, 939
AX_LEFT_PX = [50, 471]
AX_TOP_PX = [10, 324, 638]
AX_W_PX, AX_H_PX = 345, 257

ANNOT = [
    [('Lower Surface', (0.762, 0.65), (0.623, 0.14), (0.731, 0.47)),
     ('Upper Surface', (0.406, -1.08), (0.517, -0.48), (0.393, -0.98))],
    [('Lower Surface', (0.762, 0.65), (0.664, 0.226), (0.738, 0.51)),
     ('Upper Surface', (0.407, -1.08), (0.472, -0.66), (0.395, -0.97))],
    [('Upper Surface', (0.728, 0.80), (0.575, 0.125), (0.71, 0.68)),
     ('Lower Surface', (0.406, -0.98), (0.524, -0.136), (0.391, -0.83))],
    [('Upper Surface', (0.728, 0.80), (0.596, 0.195), (0.71, 0.67)),
     ('Lower Surface', (0.406, -0.98), (0.527, -0.245), (0.391, -0.877))],
    [('Upper Surface', (0.728, 0.80), (0.589, 0.187), (0.694, 0.60)),
     ('Lower Surface', (0.406, -0.974), (0.517, -0.34), (0.415, -0.75))],
    [('Upper Surface', (0.728, 0.80), (0.625, 0.36), (0.705, 0.67)),
     ('Lower Surface', (0.406, -0.974), (0.461, -0.57), (0.391, -0.845))],
]
TITLE_X = [0.348, 0.348, 0.372, 0.372, 0.300, 0.300]

BOLD = 'cmb10'
ROMAN = 'cmr10'
FS_BOLD = 11.0
FS_TICK = 9.5

fig = plt.figure(figsize=(W / 100, H / 100), dpi=100)

for i in range(6):
    row, col = divmod(i, 2)
    l = AX_LEFT_PX[col] / W
    b = 1 - (AX_TOP_PX[row] + AX_H_PX) / H
    ax = fig.add_axes([l, b, AX_W_PX / W, AX_H_PX / H])
    handles = []
    for s, (ca, cb) in enumerate(PANEL_CURVES[i]):
        for cur in (ca, cb):
            xs = [p[0] for p in cur]
            ys = [p[1] for p in cur]
            ax.plot(xs, ys, color=COLORS[s], lw=1.0, solid_joinstyle='round')
        handles.append(Line2D([], [], color=COLORS[s], lw=1.0))
    ax.axhline(0, color='black', lw=1.0, dashes=(6, 3.5))
    ax.set_xlim(0, 1)
    ax.set_ylim(-1.5, 1.5)
    ax.set_xticks(XTICKS)
    ax.set_xticklabels(XTICKLABELS, fontfamily=ROMAN, fontsize=FS_TICK)
    ax.set_yticks(YTICKS)
    ax.set_yticklabels(YTICKLABELS, fontfamily=ROMAN, fontsize=FS_TICK)
    ax.tick_params(direction='in', top=True, right=True, length=5, width=0.8)
    ax.tick_params(axis='x', pad=5)
    ax.tick_params(axis='y', pad=2.5)
    for sp in ax.spines.values():
        sp.set_linewidth(1.0)

    ax.text(0.5, -0.102, 'x/c', transform=ax.transAxes, ha='center', va='center',
            fontfamily=BOLD, fontsize=FS_BOLD)
    ax.text(-0.112, 0.5, r'$\mathbf{C}_{\mathbf{p}}$', transform=ax.transAxes,
            ha='left', va='center', fontsize=11)

    ax.text(0.042, 1.207, R_LABELS[i], fontfamily=BOLD, fontsize=FS_BOLD, va='baseline')
    ax.text(0.042, 0.962, K_LABEL, fontfamily=BOLD, fontsize=FS_BOLD, va='baseline')
    ax.text(0.042, 0.717, A_LABEL, fontfamily=BOLD, fontsize=FS_BOLD, va='baseline')
    ax.text(TITLE_X[i], 1.207, PITCH_LABELS[i], fontfamily=BOLD, fontsize=FS_BOLD, va='baseline')

    for (lab, txy, tail, head) in ANNOT[i]:
        ax.text(txy[0], txy[1], lab, fontfamily=BOLD, fontsize=FS_BOLD, ha='center', va='center')
        ax.annotate('', xy=head, xytext=tail,
                    arrowprops=dict(arrowstyle='->', color='black', lw=0.8,
                                    shrinkA=0, shrinkB=0, mutation_scale=11))

    ax.legend(handles, SERIES, loc='upper left', bbox_to_anchor=(0.594, 0.218),
              frameon=False, handlelength=4.5, handletextpad=0.6,
              labelspacing=0.08, borderpad=0, borderaxespad=0,
              prop={'family': BOLD, 'size': FS_BOLD})

fig.savefig('out.png', dpi=100)
